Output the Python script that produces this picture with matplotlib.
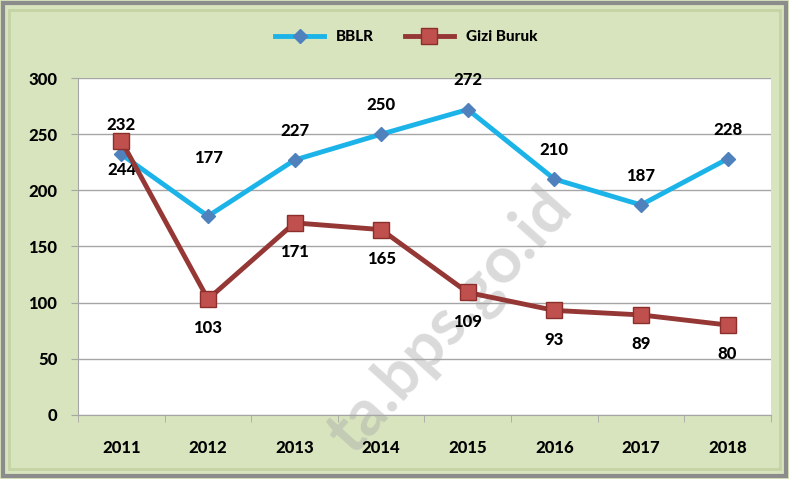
import numpy as np
import matplotlib.pyplot as plt
from matplotlib.patches import Rectangle

plt.rcParams['font.family'] = ['Lato', 'DejaVu Sans']

# data
years = ['2011', '2012', '2013', '2014', '2015', '2016', '2017', '2018']
bblr = [232, 177, 227, 250, 272, 210, 187, 228]
gizi_buruk = [244, 103, 171, 165, 109, 93, 89, 80]

fig = plt.figure(figsize=(7.89, 4.79), dpi=100)
fig.patch.set_facecolor('#D7E4BD')

# outer gray frame
fig.patches.append(Rectangle((0.004, 0.006), 0.992, 0.988, transform=fig.transFigure,
                             fill=False, edgecolor='#8C8C8C', linewidth=3, zorder=5))
fig.patches.append(Rectangle((0.012, 0.02), 0.976, 0.96, transform=fig.transFigure,
                             fill=False, edgecolor='#C4D3A4', linewidth=2, zorder=5))

pos = [0.099, 0.134, 0.878, 0.703]
# white plot area drawn separately so the watermark can sit between it and the lines
fig.patches.append(Rectangle((pos[0], pos[1]), pos[2], pos[3], transform=fig.transFigure,
                             facecolor='white', edgecolor='none', zorder=0.5))
fig.text(0.572, 0.33, 'ta.bps.go.id', fontsize=47, fontweight='bold', color='#A8A8A8',
         alpha=0.42, rotation=48, ha='center', va='center', zorder=0.8)

ax = fig.add_axes(pos, zorder=2)
ax.set_facecolor('none')

x = np.arange(len(years))
ax.plot(x, bblr, color='#1CB4E8', linewidth=3.5, marker='D', markersize=7,
        markerfacecolor='#4F81BD', markeredgecolor='#4F81BD', label='BBLR', zorder=3)
ax.plot(x, gizi_buruk, color='#953735', linewidth=3.5, marker='s', markersize=11,
        markerfacecolor='#C0504D', markeredgecolor='#8B2F2D', label='Gizi Buruk', zorder=4)

# value labels: BBLR above, Gizi Buruk below (2012 BBLR label sits higher)
for i, v in enumerate(bblr):
    off = 42 if i == 1 else 21
    ax.annotate(str(v), (x[i], v), xytext=(0, off), textcoords='offset points',
                ha='center', va='center', fontsize=12, fontweight='black')
for i, v in enumerate(gizi_buruk):
    ax.annotate(str(v), (x[i], v), xytext=(0, -21), textcoords='offset points',
                ha='center', va='center', fontsize=12, fontweight='black')

ax.set_xlim(-0.5, len(years) - 0.5)
ax.set_ylim(0, 300)
ax.set_yticks(range(0, 301, 50))
ax.set_xticks(x)
ax.set_xticklabels(years)
ax.yaxis.grid(True, color='#A6A6A6', linewidth=1)
ax.set_axisbelow(True)
for s in ['top', 'right']:
    ax.spines[s].set_visible(False)
ax.spines['left'].set_color('#A6A6A6')
ax.spines['bottom'].set_color('#A6A6A6')
ax.tick_params(axis='y', length=5, color='#A6A6A6', labelsize=12, pad=10)
ax.tick_params(axis='x', length=0, labelsize=12, pad=18)
for lbl in ax.get_xticklabels() + ax.get_yticklabels():
    lbl.set_fontweight('black')
# x tick marks between categories
ax.set_xticks(np.arange(-0.5, len(years), 1), minor=True)
ax.tick_params(axis='x', which='minor', length=5, color='#A6A6A6', direction='out')

leg = fig.legend(loc='center', bbox_to_anchor=(0.515, 0.923), ncol=2, frameon=False,
                 prop={'weight': 'black', 'size': 11}, handlelength=3.2, columnspacing=2)

fig.savefig('out.png', dpi=100, facecolor=fig.get_facecolor())
